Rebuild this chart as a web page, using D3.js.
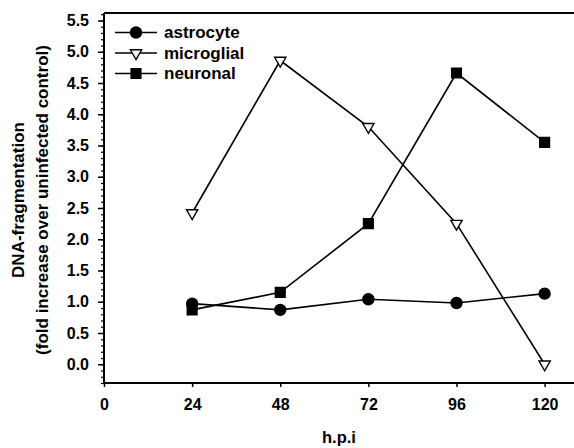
<!DOCTYPE html>
<html>
<head>
<meta charset="utf-8">
<script src="https://cdn.jsdelivr.net/npm/d3@7"></script>
<style>
  body { margin: 0; background: #fff; }
  text { font-family: Arial, "Liberation Sans", sans-serif; font-weight: bold; fill: #000; }
</style>
</head>
<body>
<script>
// données
const hours = [24, 48, 72, 96, 120];
const astrocyte = [0.97, 0.87, 1.04, 0.98, 1.13];
const microglial = [2.42, 4.86, 3.8, 2.25, 0.0];
const neuronal = [0.87, 1.15, 2.25, 4.66, 3.55];
const xTicks = [0, 24, 48, 72, 96, 120];
const yTicks = [0, 0.5, 1, 1.5, 2, 2.5, 3, 3.5, 4, 4.5, 5, 5.5];

const width = 574, height = 448;
const margin = { top: 13, right: 0, bottom: 65, left: 104 };

const svg = d3.select("body").append("svg")
    .attr("width", width).attr("height", height);

const x = d3.scaleLinear().domain([0, 128]).range([margin.left, width - margin.right]);
const y = d3.scaleLinear().domain([-0.3, 5.62]).range([height - margin.bottom, margin.top]);

// axe y : ticks mineurs puis majeurs
svg.append("g")
    .attr("transform", "translate(" + margin.left + ",0)")
    .call(d3.axisLeft(y).tickValues(d3.range(-3, 57).map(d => d / 10)).tickSize(3).tickFormat(""))
    .call(g => g.select(".domain").remove())
    .selectAll("line").attr("stroke-width", 1.2);

svg.append("g")
    .attr("transform", "translate(" + margin.left + ",0)")
    .call(d3.axisLeft(y).tickValues(yTicks).tickSize(6).tickPadding(9).tickFormat(d3.format(".1f")))
    .call(g => g.select(".domain").attr("d", "M0," + y(-0.3) + "V" + margin.top).attr("stroke-width", 2))
    .call(g => g.selectAll("line").attr("stroke-width", 1.5))
    .call(g => g.selectAll("text").style("font-size", "16px"));

// axe x
svg.append("g")
    .attr("transform", "translate(0," + (height - margin.bottom) + ")")
    .call(d3.axisBottom(x).tickValues(xTicks).tickSize(4).tickPadding(12))
    .call(g => g.select(".domain").attr("d", "M" + margin.left + ",0H" + width).attr("stroke-width", 2))
    .call(g => g.selectAll("line").attr("stroke-width", 1.5))
    .call(g => g.selectAll("text").style("font-size", "16px"));

// bord du haut
svg.append("line")
    .attr("x1", margin.left).attr("x2", width)
    .attr("y1", margin.top).attr("y2", margin.top)
    .attr("stroke", "#000").attr("stroke-width", 2);

// titres des axes
svg.append("text")
    .attr("x", x(64)).attr("y", 443)
    .attr("text-anchor", "middle").style("font-size", "16.5px")
    .text("h.p.i");

const yl = svg.append("text")
    .attr("transform", "translate(0,200) rotate(-90)")
    .attr("text-anchor", "middle").style("font-size", "17px");
yl.append("tspan").attr("x", 0).attr("y", 24).text("DNA-fragmentation");
yl.append("tspan").attr("x", 0).attr("y", 48).text("(fold increase over uninfected control)");

// séries
const series = [
    { name: "astrocyte", values: astrocyte, symbol: d3.symbolCircle, size: 95, fill: "#000" },
    { name: "microglial", values: microglial, symbol: d3.symbolTriangle, size: 55, fill: "#fff", rotate: 180 },
    { name: "neuronal", values: neuronal, symbol: d3.symbolSquare, size: 95, fill: "#000" }
];

const line = d3.line().x((d, i) => x(hours[i])).y(d => y(d));

series.forEach(s => {
    svg.append("path")
        .datum(s.values)
        .attr("d", line)
        .attr("fill", "none")
        .attr("stroke", "#000")
        .attr("stroke-width", 1.6);
});

series.forEach(s => {
    svg.append("g").selectAll("path")
        .data(s.values)
        .enter()
        .append("path")
        .attr("d", d3.symbol().type(s.symbol).size(s.size))
        .attr("transform", (d, i) => "translate(" + x(hours[i]) + "," + y(d) + ")" + (s.rotate ? " rotate(" + s.rotate + ")" : ""))
        .attr("fill", s.fill)
        .attr("stroke", "#000")
        .attr("stroke-width", 1.4);
});

// légende
const legend = svg.append("g").attr("transform", "translate(115,32.5)");
series.forEach((s, i) => {
    const row = legend.append("g").attr("transform", "translate(0," + i * 20.5 + ")");
    row.append("line").attr("x1", 0).attr("x2", 42).attr("stroke", "#000").attr("stroke-width", 1.6);
    row.append("path")
        .attr("d", d3.symbol().type(s.symbol).size(s.size))
        .attr("transform", "translate(21,0)" + (s.rotate ? " rotate(" + s.rotate + ")" : ""))
        .attr("fill", s.fill).attr("stroke", "#000").attr("stroke-width", 1.4);
    row.append("text").attr("x", 49).attr("y", 5.5).style("font-size", "17px").text(s.name);
});
</script>
</body>
</html>
